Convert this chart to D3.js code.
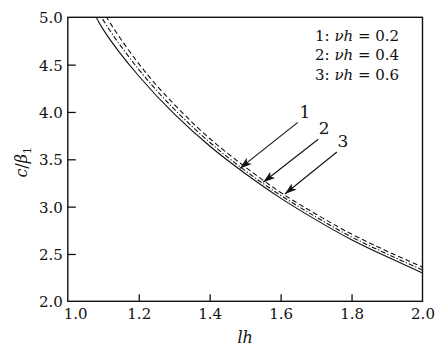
<!DOCTYPE html>
<html>
<head>
<meta charset="utf-8">
<script src="https://cdn.jsdelivr.net/npm/d3@7"></script>
<style>
  html, body { margin: 0; padding: 0; background: #fff; }
  svg { display: block; }
  text { font-family: "DejaVu Serif", "Liberation Serif", serif; fill: #111; }
</style>
</head>
<body>
<svg id="chart" width="446" height="348"></svg>
<script>
// lh grid and c/β1 values for each νh
const lh = [1.05, 1.1, 1.2, 1.3, 1.4, 1.5, 1.6, 1.7, 1.8, 1.9, 2.0];
const c1 = [5.25, 4.87, 4.38, 3.98, 3.64, 3.35, 3.09, 2.86, 2.65, 2.47, 2.30]; // νh = 0.2
const c2 = [5.37, 4.97, 4.45, 4.03, 3.68, 3.38, 3.12, 2.89, 2.68, 2.50, 2.33]; // νh = 0.4
const c3 = [5.47, 5.06, 4.51, 4.08, 3.72, 3.42, 3.15, 2.92, 2.71, 2.53, 2.36]; // νh = 0.6
const seriesNames = ["1", "2", "3"];
const nuH = ["0.2", "0.4", "0.6"];
const xTicks = [1.0, 1.2, 1.4, 1.6, 1.8, 2.0];
const yTicks = [2.0, 2.5, 3.0, 3.5, 4.0, 4.5, 5.0];
// lh at which each numbered arrow touches its curve
const arrowLh = [1.485, 1.551, 1.612];

const svg = d3.select("#chart");
const mLeft = 67.8, mRight = 422.5, mTop = 17.3, mBottom = 301.3;

const x = d3.scaleLinear().domain([1.0, 2.0]).range([mLeft, mRight]);
const y = d3.scaleLinear().domain([2.0, 5.0]).range([mBottom, mTop]);

svg.append("defs").append("clipPath").attr("id", "plot")
  .append("rect").attr("x", mLeft).attr("y", mTop)
  .attr("width", mRight - mLeft).attr("height", mBottom - mTop);

// curves
const allSeries = [c1, c2, c3];
const dashes = [null, "5,2,1.2,2", "5,3"];
const line = d3.line().x(d => x(d[0])).y(d => y(d[1])).curve(d3.curveNatural);
allSeries.forEach((vals, i) => {
  svg.append("path")
    .attr("clip-path", "url(#plot)")
    .attr("d", line(lh.map((v, k) => [v, vals[k]])))
    .attr("fill", "none")
    .attr("stroke", "#111")
    .attr("stroke-width", 1.1)
    .attr("stroke-dasharray", dashes[i]);
});

// axes with inward ticks
const xAxis = svg.append("g").attr("transform", `translate(0,${mBottom})`)
  .call(d3.axisBottom(x).tickValues(xTicks).tickSizeInner(-7).tickSizeOuter(0)
    .tickFormat(d3.format(".1f")));
const yAxis = svg.append("g").attr("transform", `translate(${mLeft},0)`)
  .call(d3.axisLeft(y).tickValues(yTicks).tickSizeInner(-8).tickSizeOuter(0)
    .tickFormat(d3.format(".1f")));
[xAxis, yAxis].forEach(g => {
  g.select(".domain").remove();
  g.selectAll("line").attr("stroke", "#111").attr("stroke-width", 1.3);
  g.selectAll("text").attr("font-size", 15).attr("font-family", "DejaVu Serif").attr("fill", "#111");
});
xAxis.selectAll("text").attr("y", 7).attr("dy", "0.71em");
xAxis.selectAll(".tick").filter(d => d === 1.0).select("text")
  .attr("text-anchor", "start").attr("x", -4.5);
yAxis.selectAll("text").attr("x", -5).attr("dy", "0.36em");
yAxis.selectAll(".tick").filter(d => d === 2.0 || d === 5.0).select("line").remove();
xAxis.selectAll(".tick").filter(d => d === 1.0 || d === 2.0).select("line").remove();

// frame
svg.append("rect").attr("x", mLeft).attr("y", mTop)
  .attr("width", mRight - mLeft).attr("height", mBottom - mTop)
  .attr("fill", "none").attr("stroke", "#111").attr("stroke-width", 1.4);

// axis titles
svg.append("text").attr("x", (mLeft + mRight) / 2).attr("y", 343)
  .attr("text-anchor", "middle").attr("font-size", 16).attr("font-style", "italic").text("lh");
const yl = svg.append("text")
  .attr("transform", `translate(27,${(mTop + mBottom) / 2 + 3}) rotate(-90)`)
  .attr("text-anchor", "middle").attr("font-size", 16);
yl.append("tspan").attr("font-style", "italic").text("c");
yl.append("tspan").text("/");
yl.append("tspan").attr("font-style", "italic").text("β");
yl.append("tspan").attr("font-size", 11).attr("dy", 4).text("1");

// legend text
seriesNames.forEach((n, i) => {
  const t = svg.append("text").attr("x", 315).attr("y", 41 + i * 19.3).attr("font-size", 15);
  t.append("tspan").text(n + ": ");
  t.append("tspan").attr("font-style", "italic").text("νh");
  t.append("tspan").text(" = " + nuH[i]);
});

// numbered arrows pointing at the curves
const interp = (vals, v) => {
  const k = d3.bisectRight(lh, v) - 1;
  const t = (v - lh[k]) / (lh[k + 1] - lh[k]);
  return vals[k] + t * (vals[k + 1] - vals[k]);
};
const tails = [[58, -46], [55, -43], [52, -42]];
const labelOff = [[7, -4], [6, -5], [6, -5]];
arrowLh.forEach((v, i) => {
  const tx = x(v), ty = y(interp(allSeries[i], v)) - 1;
  const sx = tx + tails[i][0], sy = ty + tails[i][1];
  const ang = Math.atan2(ty - sy, tx - sx) * 180 / Math.PI;
  svg.append("line").attr("x1", sx).attr("y1", sy).attr("x2", tx).attr("y2", ty)
    .attr("stroke", "#111").attr("stroke-width", 1.1);
  svg.append("path")
    .attr("transform", `translate(${tx},${ty}) rotate(${ang})`)
    .attr("d", "M0,0 L-12,-4 L-9,0 L-12,4 Z")
    .attr("fill", "#111");
  svg.append("text").attr("x", sx + labelOff[i][0]).attr("y", sy + labelOff[i][1])
    .attr("font-size", 17).attr("text-anchor", "middle").text(seriesNames[i]);
});
</script>
</body>
</html>
